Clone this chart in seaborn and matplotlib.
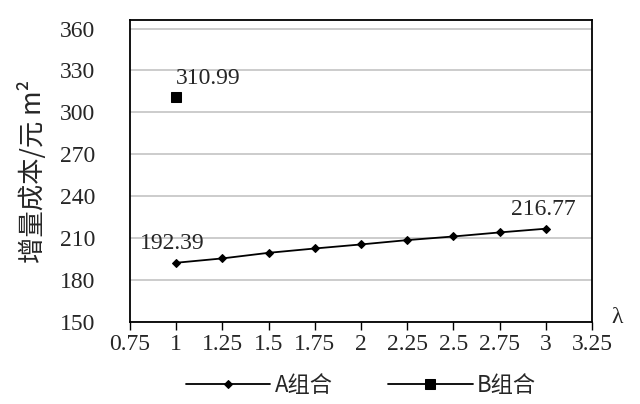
import matplotlib
import pandas as pd
import seaborn as sns

matplotlib.use("Agg")
import matplotlib.pyplot as plt  # noqa: E402

# data
lam_a = [1, 1.25, 1.5, 1.75, 2, 2.25, 2.5, 2.75, 3]
cost_a = [192.39, 195.5, 199.5, 202.6, 205.5, 208.6, 211.2, 214.1, 216.77]
lam_b = [1]
cost_b = [310.99]
x_ticks = [0.75, 1, 1.25, 1.5, 1.75, 2, 2.25, 2.5, 2.75, 3, 3.25]
x_tick_labels = ["0.75", "1", "1.25", "1.5", "1.75", "2", "2.25", "2.5", "2.75", "3", "3.25"]
y_ticks = [150, 180, 210, 240, 270, 300, 330, 360]

CJK = ["Noto Sans CJK SC", "DejaVu Sans"]
NUM = ["Liberation Serif", "DejaVu Serif"]

sns.set_theme(style="white")
plt.rcParams["font.family"] = NUM

frame_a = pd.DataFrame({"lam": lam_a, "cost": cost_a})
frame_b = pd.DataFrame({"lam": lam_b, "cost": cost_b})

fig = plt.figure(figsize=(6.4, 4.04), dpi=100)
ax = fig.add_axes([0.203, 0.203, 0.722, 0.747])

sns.lineplot(data=frame_a, x="lam", y="cost", color="black", linewidth=1.3,
             marker="D", markersize=4, markeredgecolor="black", label="A组合", ax=ax)
sns.lineplot(data=frame_b, x="lam", y="cost", color="black", linewidth=1.3,
             marker="s", markersize=7, markeredgecolor="black", label="B组合", ax=ax)

ax.set_xlim(0.75, 3.25)
ax.set_ylim(150, 366)
ax.set_xticks(x_ticks)
ax.set_xticklabels(x_tick_labels)
ax.set_yticks(y_ticks)
ax.yaxis.grid(True, color="#c8c8c8", linewidth=1.3)
ax.set_axisbelow(True)
for side in ["top", "right", "left", "bottom"]:
    ax.spines[side].set_color("black")
    ax.spines[side].set_linewidth(1.3)
ax.tick_params(axis="x", direction="out", length=6, width=1, color="black",
               labelsize=17, pad=3, bottom=True)
ax.tick_params(axis="y", length=0, labelsize=17, pad=25)
ax.set_xlabel("")
ax.set_ylabel("增量成本/元 m²", family=CJK, fontsize=19, fontweight="medium", labelpad=9)

ax.annotate("192.39", xy=(1, 192.39), xytext=(-26, 6), textcoords="offset points",
            fontsize=17, ha="left", va="bottom")
ax.annotate("216.77", xy=(3, 216.77), xytext=(-2, 6), textcoords="offset points",
            fontsize=17, ha="center", va="bottom")
ax.annotate("310.99", xy=(1, 310.99), xytext=(0, 6), textcoords="offset points",
            fontsize=17, ha="left", va="bottom")

fig.text(0.955, 0.215, "λ", fontsize=17, ha="left", va="center")

leg = ax.legend(loc="upper center", bbox_to_anchor=(0.5, -0.105), ncol=2, frameon=False,
                handlelength=3.8, handletextpad=0.2, columnspacing=2.5,
                prop={"family": CJK, "size": 16})

fig.savefig("out.png", dpi=100)
